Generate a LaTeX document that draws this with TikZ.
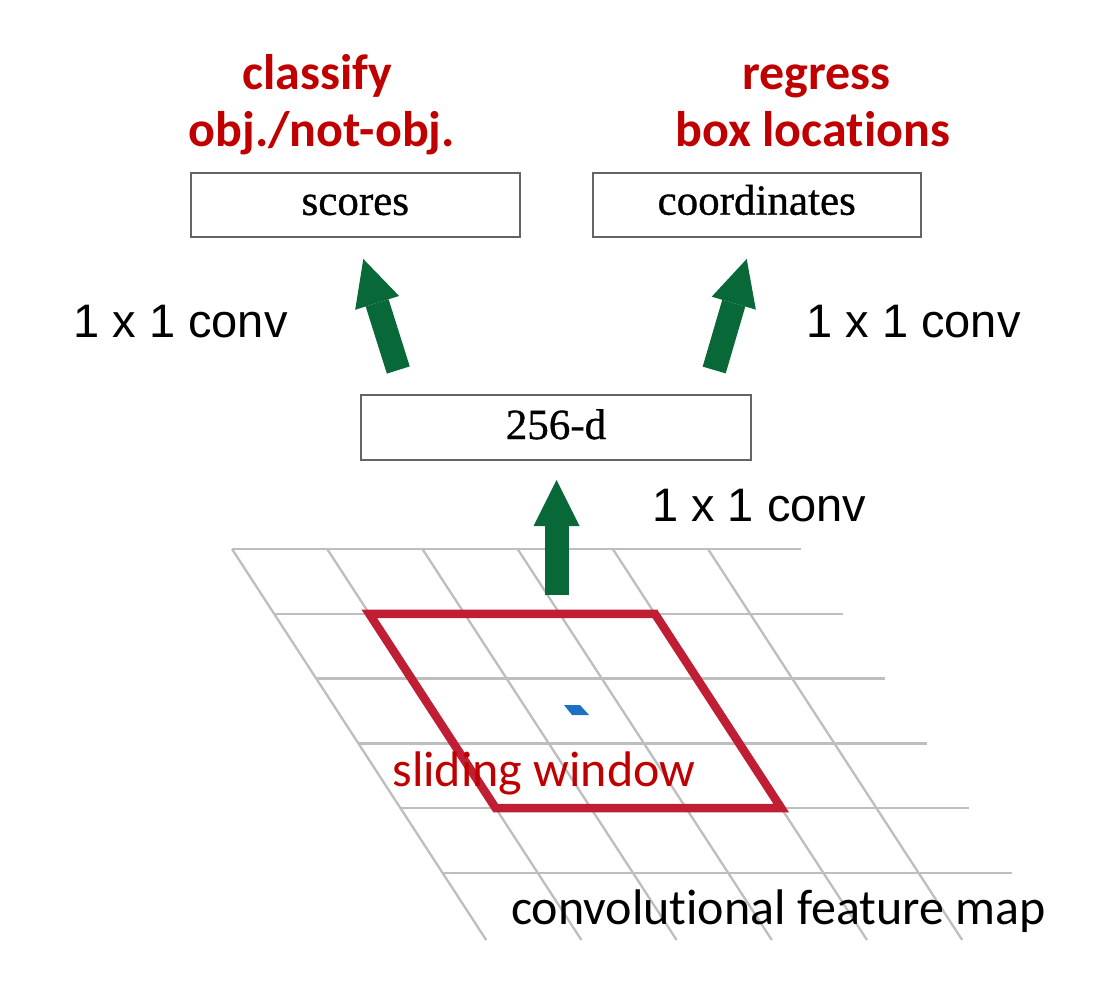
\documentclass[tikz,border=0pt]{standalone}
\usepackage{fontspec}
\setmainfont{Liberation Serif}
\newfontfamily\boxfont[FakeBold=0.8]{Liberation Serif}
\newfontfamily\carlito[Ligatures=NoCommon]{Carlito}
\newfontfamily\arialf{Liberation Sans}
\usetikzlibrary{arrows.meta}
\definecolor{gridgray}{RGB}{190,190,190}
\definecolor{winred}{RGB}{192,30,52}
\definecolor{txtred}{RGB}{192,0,0}
\definecolor{arrgreen}{RGB}{8,104,56}
\definecolor{spotblue}{RGB}{30,112,192}
\definecolor{boxgray}{RGB}{100,100,100}
\begin{document}
\begin{tikzpicture}[x=1pt,y=-1pt,
  gridline/.style={draw=gridgray,line width=2.3pt},
  window/.style={draw=winred,line width=8.5pt},
  fatarrow/.style={draw=arrgreen,line width=24pt,-{Triangle[width=46pt,length=46pt,line width=0pt]}},
  layerbox/.style={draw=boxgray,line width=2pt,fill=white,inner sep=0pt,font=\boxfont\fontsize{43}{50}\selectfont,text depth=0pt},
  redhead/.style={text=txtred,font=\carlito\bfseries\fontsize{50}{58}\selectfont,anchor=base,inner sep=0pt},
  convlabel/.style={font=\arialf\fontsize{47}{55}\selectfont,anchor=base,inner sep=0pt},
  maplabel/.style={font=\carlito\fontsize{50}{58}\selectfont,anchor=base,inner sep=0pt}]
\useasboundingbox[fill=white] (0,0) rectangle (1116,1000);

% feature map grid
\foreach \i in {0,...,5} {
  \pgfmathsetmacro\yy{549+64.8*\i}
  \pgfmathsetmacro\oo{(\yy-549)*0.65}
  \draw[gridline] (232+\oo,\yy) -- (801+\oo,\yy);
}
\foreach \j in {0,...,5} {
  \pgfmathsetmacro\xx{232+95.2*\j}
  \draw[gridline] (\xx,549) -- (\xx+254.2,940);
}

% sliding window
\draw[window] (369.3,613.8) -- (654.9,613.8) -- (781.3,808.2) -- (495.7,808.2) -- cycle;
% centre position
\fill[spotblue] (564,705) -- (580,705) -- (589,715) -- (572,715) -- cycle;

% boxes
\node[layerbox,minimum width=329pt,minimum height=64pt,text height=20pt] (scores) at (355.3,204.9) {scores};
\node[layerbox,minimum width=328pt,minimum height=64pt,text height=20pt] (coords) at (756.7,204.7) {coordinates};
\node[layerbox,minimum width=390pt,minimum height=65pt,text height=23pt] (d256) at (556,427.5) {256-d};

% arrows
\coordinate (c0) at (556.5,595);
\coordinate (c1) at (556.5,480);
\coordinate (l0) at (398.3,370);
\coordinate (l1) at (363.3,259);
\coordinate (r0) at (714.2,370);
\coordinate (r1) at (746.7,259);
\draw[fatarrow] (c0) -- (c1);
\draw[fatarrow] (l0) -- (l1);
\draw[fatarrow] (r0) -- (r1);

% labels
\node[redhead] (cls1) at (317.5,90) {classify};
\node[redhead] (cls2) at (321.7,147) {obj./not-obj.};
\node[redhead] (reg1) at (816.5,90) {regress};
\node[redhead] (reg2) at (812.8,147) {box locations};
\node[convlabel] (convl) at (180.5,337) {1 x 1 conv};
\node[convlabel] (convr) at (913.5,337) {1 x 1 conv};
\node[convlabel] (convc) at (759.2,521.7) {1 x 1 conv};
\node[maplabel,text=txtred] (slide) at (544,786.7) {sliding window};
\node[maplabel] (fmap) at (778.5,924) {convolutional feature map};
\end{tikzpicture}
\end{document}
